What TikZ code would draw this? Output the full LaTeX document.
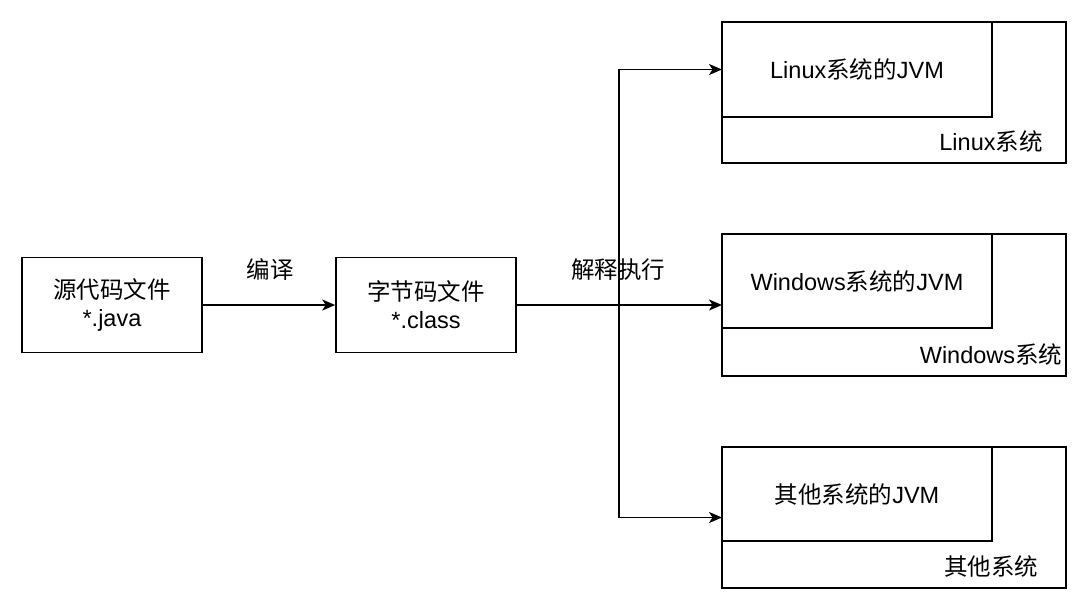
\documentclass[tikz,border=0pt]{standalone}
\usepackage{fontspec}
\setmainfont{Liberation Sans}
\newfontfamily\cjk{Noto Sans CJK SC}
\usetikzlibrary{arrows.meta}
\begin{document}
\begin{tikzpicture}[x=1pt,y=-1pt,
  every node/.style={font=\fontsize{23.5}{29}\selectfont},
  box/.style={draw,line width=1.6pt,inner sep=0pt,minimum width=180pt,minimum height=95pt,align=center},
  conn/.style={line width=1.6pt,-{Stealth[length=13pt,width=11pt,inset=3.5pt]}},
  txt/.style={inner sep=0pt}]
\useasboundingbox (0,0) rectangle (1088,606);
% left boxes
\node[box] (src) at (112,305) {{\cjk 源代码文件}\\[-1pt]*.java};
\node[box] (cls) at (426,305) {{\cjk 字节码文件}\\[-1pt]*.class};
\draw[conn] (src.east) -- (cls.west);
\node[txt] (lbl1) at (270,270) {\cjk 编译};
% right containers
\foreach \n/\yt/\yb/\yi/\inner/\outer in {
  lin/22/163/117/{Linux{\cjk 系统的}JVM}/{Linux{\cjk 系统}},
  win/234/376/328/{Windows{\cjk 系统的}JVM}/{Windows{\cjk 系统}},
  oth/447/588/541/{{\cjk 其他系统的}JVM}/{{\cjk 其他系统}}}{
  \draw[line width=1.6pt] (722,\yt) rectangle (1066,\yb);
  \coordinate (\n O) at (722,{(\yt+\yb)/2});
  \draw[line width=1.6pt] (722,\yt) rectangle (992,\yi);
  \coordinate (\n I) at (722,{(\yt+\yi)/2});
  \node[txt] (\n T) at (857,{(\yt+\yi)/2}) {\inner};
  \node[txt] (\n S) at (991,{\yb-22}) {\outer};
}
\coordinate (split) at (619,305);
\draw[conn] (cls.east) -- (winO);
\draw[conn] (split) |- (linI);
\draw[conn] (split) |- (othO);
\node[txt] (lbl2) at (618,270) {\cjk 解释执行};
\end{tikzpicture}
\end{document}
